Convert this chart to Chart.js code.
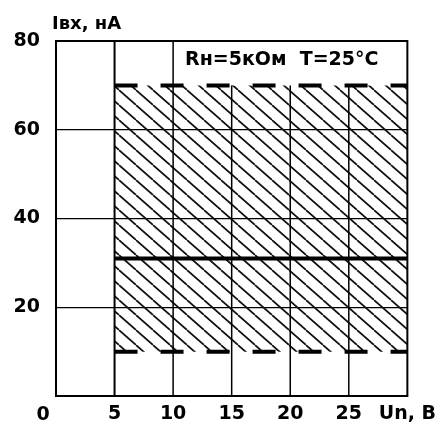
<!DOCTYPE html>
<html>
<head>
<meta charset="utf-8">
<script src="https://cdn.jsdelivr.net/npm/chart.js@4"></script>
<style>
  html, body { margin: 0; padding: 0; background: #fff; }
  #wrap { width: 443px; height: 425px; }
</style>
</head>
<body>
<div id="wrap"><canvas id="c" width="443" height="425"></canvas></div>
<script>
// ---- data ----
const xTickValues = [0, 5, 10, 15, 20, 25, 30];
const yTickValues = [20, 40, 60, 80];
const rangeX = [5, 30];
const upperLimit = [70, 70];
const lowerLimit = [10, 10];
const typical = [31, 31];
const gridX = [5, 10, 15, 20, 25];
const gridTop = [80, 80, 70, 70, 70];
const yTitle = 'Iвх, нА';
const xTitle = 'Un, B';
const note = 'Rн=5кОм  T=25°C';

// ---- hatch pattern ----
function makeHatch() {
  const w = 17, h = 15;
  const pc = document.createElement('canvas');
  pc.width = w; pc.height = h;
  const g = pc.getContext('2d');
  g.strokeStyle = '#111';
  g.lineWidth = 1.7;
  g.beginPath();
  for (let k = -1; k <= 1; k++) {
    g.moveTo(k * w, 0);
    g.lineTo(k * w + w, h);
  }
  g.stroke();
  const ctx = document.getElementById('c').getContext('2d');
  return ctx.createPattern(pc, 'repeat');
}
const hatch = makeHatch();

const pts = (ys) => rangeX.map((x, i) => ({ x, y: ys[i] }));

const datasets = [
  { data: pts(upperLimit), borderColor: '#000', borderWidth: 4, borderDash: [23, 23],
    fill: { target: 1 }, backgroundColor: hatch },
  { data: pts(lowerLimit), borderColor: '#000', borderWidth: 4, borderDash: [23, 23], fill: false },
  { data: pts(typical), borderColor: '#000', borderWidth: 4, fill: false }
];
gridX.forEach((x, i) => {
  datasets.push({ data: [{ x, y: 0 }, { x, y: gridTop[i] }], borderColor: '#000',
    borderWidth: i === 0 ? 2 : 1.5, fill: false });
});

const FONT = { family: "'DejaVu Sans', sans-serif", weight: 'bold', size: 19 };

const textPlugin = {
  id: 'texts',
  afterDraw(chart) {
    const { ctx, chartArea: a } = chart;
    ctx.save();
    ctx.strokeStyle = '#000';
    ctx.lineWidth = 2;
    ctx.strokeRect(a.left, a.top, a.right - a.left, a.bottom - a.top);
    ctx.fillStyle = '#000';
    ctx.textBaseline = 'middle';
    ctx.textAlign = 'left';
    ctx.font = "bold 18px 'DejaVu Sans', sans-serif";
    ctx.fillText(yTitle, 52, 24);
    ctx.font = "bold 19px 'DejaVu Sans', sans-serif";
    ctx.fillText(note, 185, 60);
    ctx.textAlign = 'center';
    ctx.fillText('0', 43, 415);
    ctx.restore();
  }
};

new Chart(document.getElementById('c'), {
  type: 'line',
  data: { datasets },
  plugins: [textPlugin],
  options: {
    responsive: false,
    animation: false,
    layout: { padding: { top: 41, right: 34, left: 0, bottom: 0 } },
    elements: { point: { radius: 0 }, line: { tension: 0, borderCapStyle: 'butt' } },
    plugins: {
      legend: { display: false },
      tooltip: { enabled: false },
      filler: { drawTime: 'beforeDatasetsDraw' }
    },
    scales: {
      x: {
        type: 'linear', min: 0, max: 30,
        afterBuildTicks: (s) => { s.ticks = xTickValues.map(v => ({ value: v })); },
        afterFit: (s) => { s.height = 29; },
        grid: { display: false, drawTicks: false },
        border: { display: false },
        ticks: {
          autoSkip: false, maxRotation: 0, padding: 7, color: '#000', font: FONT,
          callback: (v) => v === 0 ? '' : (v === 30 ? xTitle : String(v))
        }
      },
      y: {
        type: 'linear', min: 0, max: 80,
        afterBuildTicks: (s) => { s.ticks = [0].concat(yTickValues).map(v => ({ value: v })); },
        afterFit: (s) => { s.width = 56; },
        grid: { color: '#000', lineWidth: 1.3, drawTicks: false },
        border: { display: false },
        ticks: {
          padding: 16, color: '#000', font: FONT,
          callback: (v) => v === 0 ? '' : String(v)
        }
      }
    }
  }
});
</script>
</body>
</html>
